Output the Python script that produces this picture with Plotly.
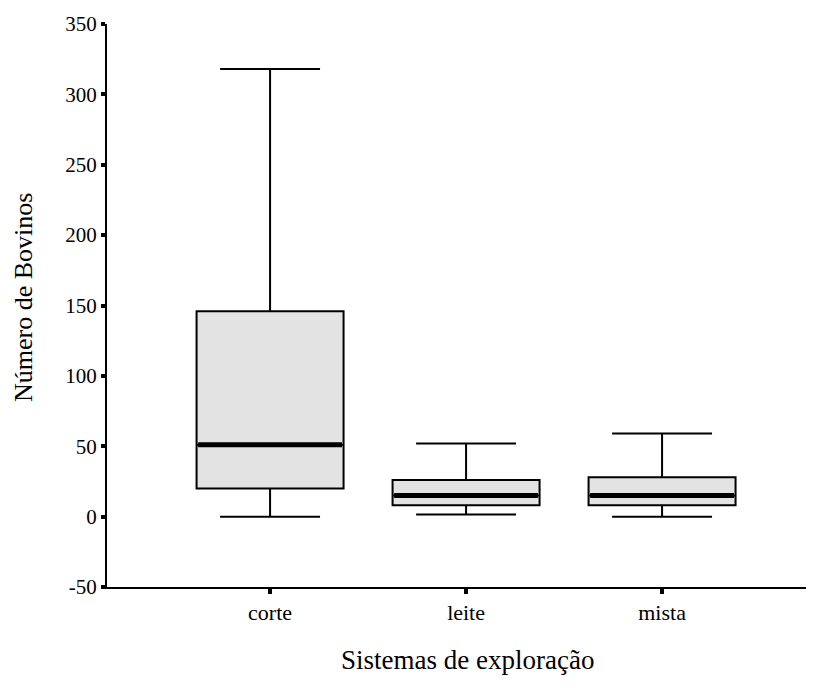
import plotly.graph_objects as go

categories = ["corte", "leite", "mista"]
lower_whisker = [0, 1.5, 0]
q1 = [20, 8, 8]
median = [51, 15, 15]
q3 = [146, 26, 28]
upper_whisker = [318, 52, 59]

y_ticks = [-50, 0, 50, 100, 150, 200, 250, 300, 350]
y_tick_labels = ["-50", "0", "50", "100", "150", "200", "250", "300", "350"]

x_title = "Sistemas de exploração"
y_title = "Número de Bovinos"

xs = list(range(len(categories)))
box_w = 0.75
font_family = "Liberation Serif"

fig = go.Figure()
fig.add_trace(go.Box(
    x=xs, q1=q1, median=median, q3=q3,
    lowerfence=lower_whisker, upperfence=upper_whisker,
    width=box_w, whiskerwidth=0.68,
    fillcolor="#e3e3e3", line=dict(color="black", width=2),
    boxpoints=False, hoverinfo="skip", showlegend=False,
))
# thick median lines
for x, m in zip(xs, median):
    fig.add_trace(go.Scatter(
        x=[x - box_w / 2 + 0.008, x + box_w / 2 - 0.008], y=[m, m],
        mode="lines", line=dict(color="black", width=5),
        hoverinfo="skip", showlegend=False,
    ))

fig.update_layout(
    width=814, height=668,
    margin=dict(l=99, r=0, t=16, b=89),
    plot_bgcolor="white", paper_bgcolor="white",
    font=dict(family=font_family, color="black", size=21),
    xaxis=dict(
        range=[-0.832, 2.816], tickmode="array", tickvals=xs, ticktext=categories,
        showline=True, linecolor="black", linewidth=2,
        ticks="outside", ticklen=5, tickwidth=4, tickcolor="black",
        showgrid=False, zeroline=False,
        tickfont=dict(family=font_family, size=22, color="black"),
    ),
    yaxis=dict(
        range=[-50, 350], tickmode="array", tickvals=y_ticks, ticktext=y_tick_labels,
        showline=True, linecolor="black", linewidth=2,
        ticks="outside", ticklen=4, tickwidth=4, tickcolor="black",
        showgrid=False, zeroline=False,
        tickfont=dict(family=font_family, size=21, color="black"),
    ),
    annotations=[
        dict(text=x_title, xref="paper", yref="paper", x=0.5048, y=-0.1297,
             xanchor="center", yanchor="middle", showarrow=False,
             font=dict(family=font_family, size=27, color="black")),
        dict(text=y_title, xref="paper", yref="paper", x=-0.1175, y=0.515,
             xanchor="center", yanchor="middle", showarrow=False, textangle=-90,
             font=dict(family=font_family, size=26, color="black")),
    ],
)

fig.write_html("out.html")
